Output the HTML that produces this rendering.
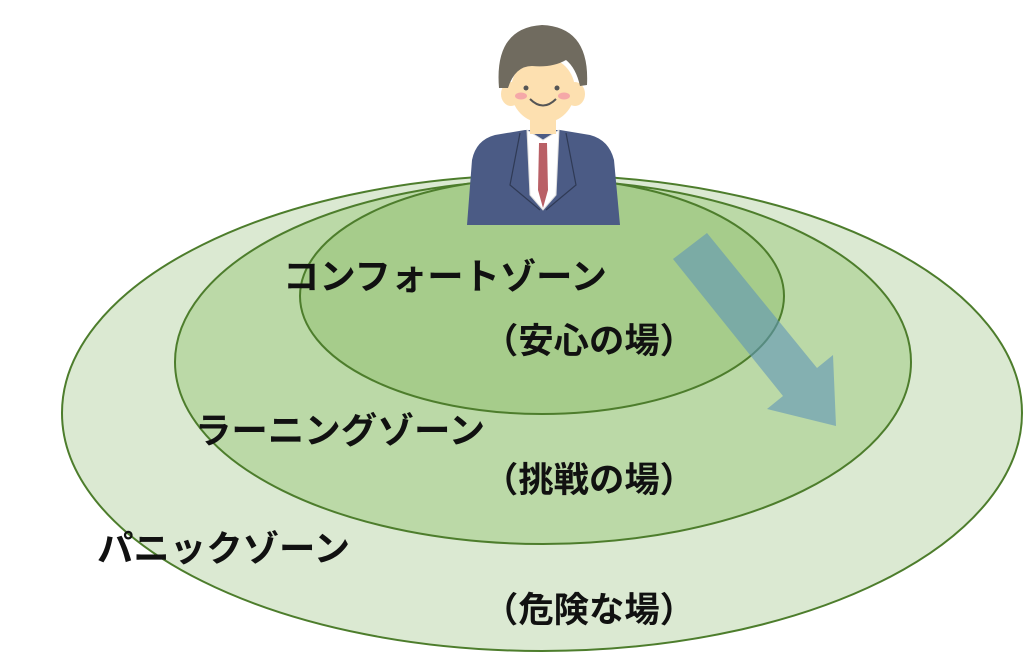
<!DOCTYPE html>
<html><head><meta charset="utf-8"><style>
html,body{margin:0;padding:0;background:#fff;}
svg{display:block;}
text{font-family:"Liberation Sans","Noto Sans CJK JP",sans-serif;font-weight:bold;fill:#111;}
</style></head><body>
<svg width="1024" height="658" viewBox="0 0 1024 658" xmlns="http://www.w3.org/2000/svg">
<ellipse cx="542" cy="413" rx="480" ry="238" fill="#dbe9d2" stroke="#4d7d2c" stroke-width="2"/>
<ellipse cx="543" cy="362" rx="368" ry="182" fill="#bbd9a7" stroke="#4d7d2c" stroke-width="2"/>
<ellipse cx="542" cy="296" rx="242" ry="118" fill="#a6cc8b" stroke="#4d7d2c" stroke-width="2"/>
<g>
<path d="M467,225 L472,160 Q476,140 495,135 L525,130 L560,130 L590,135 Q609,140 614,160 L620,225 Z" fill="#4b5b85"/>
<path d="M527,130 L543,140 L559,130 L556,195 L543,210 L530,195 Z" fill="#fff" stroke="#ddd"/>
<path d="M539,143 L547,143 L548,190 L543,208 L538,190 Z" fill="#b96066"/>
<path d="M520,133 L510,185 L540,210 M566,133 L576,185 L546,210" fill="none" stroke="#2f3a55" stroke-width="1.2"/>
<rect x="530" y="108" width="26" height="26" fill="#fde0b0"/>
<ellipse cx="511" cy="94" rx="10" ry="12" fill="#fde0b0"/>
<ellipse cx="575" cy="94" rx="10" ry="12" fill="#fde0b0"/>
<ellipse cx="543" cy="90" rx="32" ry="33" fill="#fde0b0"/>
<path d="M499,88 Q494,28 542,25 Q590,27 587,85 L580,86 Q576,68 566,60 Q552,68 532,66 Q515,66 508,88 Z" fill="#706b5f"/>
<circle cx="526" cy="88" r="2.5" fill="#555"/><circle cx="557" cy="88" r="2.5" fill="#555"/>
<ellipse cx="521" cy="96" rx="6" ry="3.5" fill="#f5a8a8"/><ellipse cx="564" cy="96" rx="6" ry="3.5" fill="#f5a8a8"/>
<path d="M530,99 Q543,112 556,99" fill="none" stroke="#555" stroke-width="2"/>
</g>
<polygon points="673,259 707,233 817,368 833,355 836,426 767,409 783,396" fill="#5f94b8" fill-opacity="0.6"/>
<text x="283" y="289" font-size="36" textLength="324" lengthAdjust="spacingAndGlyphs">コンフォートゾーン</text>
<text x="483" y="353" font-size="35" textLength="212" lengthAdjust="spacingAndGlyphs">（安心の場）</text>
<text x="195" y="443" font-size="36" textLength="290" lengthAdjust="spacingAndGlyphs">ラーニングゾーン</text>
<text x="483" y="492" font-size="35" textLength="212" lengthAdjust="spacingAndGlyphs">（挑戦の場）</text>
<text x="97" y="561" font-size="36" textLength="253" lengthAdjust="spacingAndGlyphs">パニックゾーン</text>
<text x="483" y="622" font-size="35" textLength="212" lengthAdjust="spacingAndGlyphs">（危険な場）</text>
</svg>
</body></html>
